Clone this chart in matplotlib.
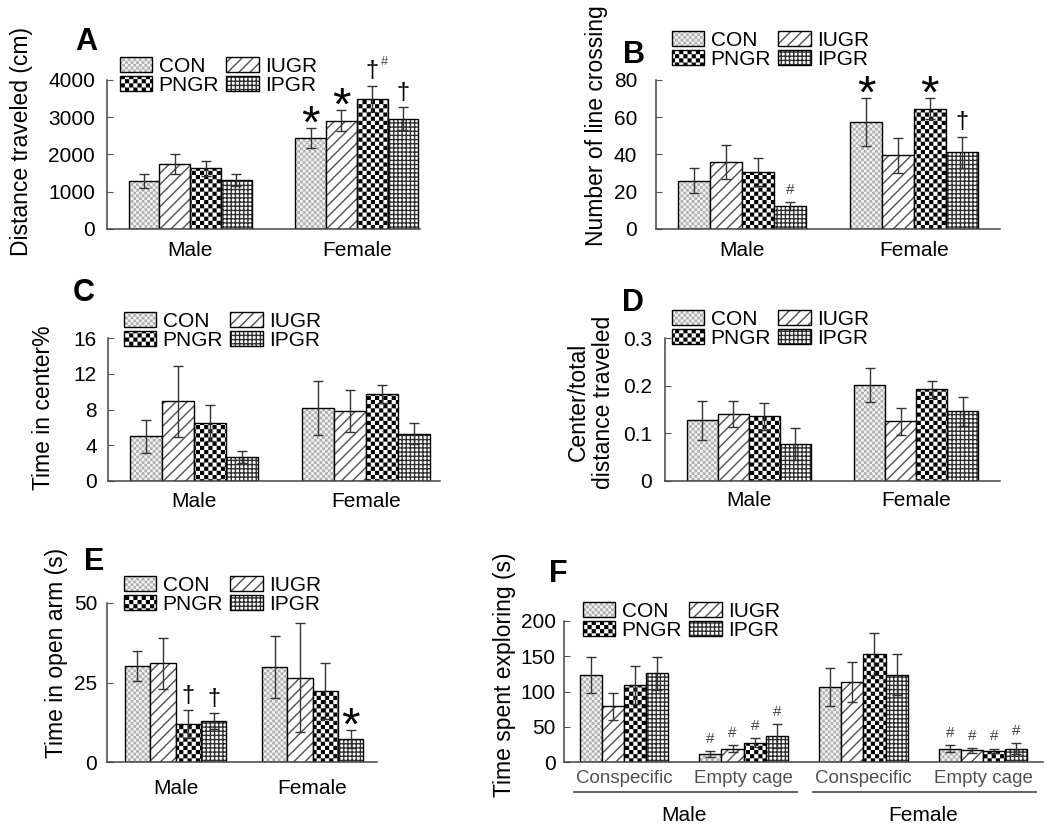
import warnings

import matplotlib.hatch as mhatch
import matplotlib.pyplot as plt
import numpy as np
from matplotlib.path import Path
from matplotlib.transforms import blended_transform_factory

plt.rcParams['font.family'] = ['Liberation Sans', 'DejaVu Sans']
plt.rcParams['hatch.linewidth'] = 1.0
warnings.filterwarnings('ignore', message='.*hatch must consist')


class CheckerHatch(mhatch.HatchPatternBase):
    """Checkerboard hatch: 'c' repeated gives density * count cells per inch."""

    def __init__(self, hatch, density):
        self.num = int(hatch.count('c') * density)
        self.num_vertices = self.num * self.num // 2 * 5

    def set_vertices_and_codes(self, vertices, codes):
        step = 1.0 / self.num
        gap = plt.rcParams['hatch.linewidth'] / 72 / 2
        square = np.array([[gap, gap], [step - gap, gap], [step - gap, step - gap],
                           [gap, step - gap], [gap, gap]])
        square_codes = [Path.MOVETO] + [Path.LINETO] * 3 + [Path.CLOSEPOLY]
        k = 0
        for i in range(self.num):
            for j in range(self.num):
                if (i + j) % 2 == 0:
                    vertices[k:k + 5] = square + [i * step, j * step]
                    codes[k:k + 5] = square_codes
                    k += 5


mhatch._hatch_types.append(CheckerHatch)

# ---- data (rows = x groups, columns = series) ----
series = ['CON', 'IUGR', 'PNGR', 'IPGR']
sexes = ['Male', 'Female']
f_tests = ['Conspecific', 'Empty cage', 'Conspecific', 'Empty cage']

dist_mean = [[1280, 1740, 1630, 1320], [2440, 2910, 3500, 2960]]
dist_sd = [[190, 260, 200, 160], [270, 290, 350, 310]]

cross_mean = [[26, 36, 30.5, 12.3], [57.5, 39.5, 64.6, 41.2]]
cross_sd = [[6.8, 9, 7.5, 2], [12.7, 9.6, 5.7, 8.3]]

center_mean = [[5.0, 8.9, 6.5, 2.7], [8.2, 7.8, 9.7, 5.3]]
center_sd = [[1.85, 4.0, 2.05, 0.7], [3.0, 2.35, 1.0, 1.2]]

ratio_mean = [[0.127, 0.140, 0.136, 0.078], [0.201, 0.125, 0.192, 0.146]]
ratio_sd = [[0.040, 0.027, 0.028, 0.034], [0.036, 0.029, 0.017, 0.031]]

arm_mean = [[30.2, 31.0, 11.9, 12.8], [29.9, 26.5, 22.2, 7.3]]
arm_sd = [[4.7, 8.1, 4.5, 2.5], [9.7, 17.2, 8.8, 2.8]]

explore_mean = [[123.6, 78.8, 109.4, 126.0], [11.8, 18.9, 27.4, 36.3],
                [107.0, 113.7, 153.3, 123.6], [18.9, 16.5, 16.0, 18.9]]
explore_sd = [[26, 19, 27, 23.5], [4, 5, 6, 17], [27, 28, 30, 29], [5, 3.5, 3, 8]]

# significance marks: (group, series index, symbol)
dist_marks = [(1, 0, '*'), (1, 1, '*'), (1, 2, '†#'), (1, 3, '†')]
cross_marks = [(0, 3, '#'), (1, 0, '*'), (1, 2, '*'), (1, 3, '†')]
arm_marks = [(0, 2, '†'), (0, 3, '†'), (1, 3, '*')]
explore_marks = [(g, i, '#') for g in (1, 3) for i in range(4)]

# ---- styles ----
BAR_W = 0.185
# face colour, hatch colour, hatch pattern
bar_styles = {
    'CON': ('#f4f4f4', '#b0b0b0', 'cccccc'),
    'IUGR': ('white', '#505050', '///'),
    'PNGR': ('white', 'black', 'cccc'),
    'IPGR': ('white', '#303030', '++++'),
}
# symbol: (font size, vertical offset in points)
mark_styles = {'*': (34, -7), '†': (17, 6), '#': (11, 6)}

W, H = 1050, 835


def draw_panel(fig, rect, means, sds, xlim, yticks, yticklabels, ylabel,
               label_xy, ypad, xpad, marks, letter, letter_xy, legend_xy):
    """Draws one grouped bar panel. rect/label_xy/letter_xy/legend_xy are
    given in pixels of the 1050x835 figure."""
    left, top, right, bottom = rect
    ax = fig.add_axes([left / W, 1 - bottom / H, (right - left) / W,
                       (bottom - top) / H])
    means = np.array(means)
    sds = np.array(sds)
    groups = np.arange(len(means))
    handles = []
    for i, name in enumerate(series):
        face, hcol, hatch = bar_styles[name]
        xs = groups + (i - 1.5) * BAR_W
        fill = ax.bar(xs, means[:, i], BAR_W, color=face, edgecolor=hcol,
                      hatch=hatch, linewidth=0)
        outline = ax.bar(xs, means[:, i], BAR_W, fill=False, edgecolor='black',
                         linewidth=1, yerr=sds[:, i],
                         error_kw=dict(ecolor='#333333', elinewidth=1,
                                       capsize=3.5, capthick=1))
        handles.append((fill, outline))

    for g, i, sym in marks:
        x = g + (i - 1.5) * BAR_W
        y = means[g, i] + sds[g, i]
        size, dy = mark_styles[sym[0]]
        color = '#444444' if sym[0] == '#' else 'black'
        ax.annotate(sym[0], (x, y), xytext=(0, dy), textcoords='offset points',
                    ha='center', va='baseline', fontsize=size, color=color)
        if len(sym) > 1:
            ax.annotate(sym[1], (x, y), xytext=(9, dy + 9),
                        textcoords='offset points', ha='center', va='baseline',
                        fontsize=9, color='#444444')

    ax.set_xlim(*xlim)
    ax.set_ylim(yticks[0], yticks[-1])
    ax.set_yticks(yticks)
    ax.set_yticklabels(yticklabels)
    ax.tick_params(axis='y', direction='in', length=4, color='#555555',
                   labelsize=15, pad=ypad)
    ax.tick_params(axis='x', length=0, labelsize=15, pad=xpad)
    for side in ['top', 'right']:
        ax.spines[side].set_visible(False)
    for side in ['left', 'bottom']:
        ax.spines[side].set_color('#444444')
        ax.spines[side].set_linewidth(1.1)

    ax.set_ylabel(ylabel, fontsize=16.5, linespacing=1.1)
    ax.yaxis.set_label_coords((label_xy[0] - left) / (right - left),
                              (bottom - label_xy[1]) / (bottom - top))
    fig.text(letter_xy[0] / W, 1 - letter_xy[1] / H, letter, fontsize=22,
             fontweight='bold', ha='center', va='center')

    order = [0, 2, 1, 3]
    ax.legend([handles[k] for k in order], [series[k] for k in order], ncol=2,
              frameon=False, loc='upper left',
              bbox_to_anchor=(legend_xy[0] / W, 1 - legend_xy[1] / H),
              bbox_transform=fig.transFigure, borderpad=0, borderaxespad=0,
              handlelength=1.55, handleheight=0.75, handletextpad=0.3,
              columnspacing=0.35, labelspacing=0.0, fontsize=15)
    return ax


fig = plt.figure(figsize=(10.5, 8.35), dpi=100)

ax = draw_panel(fig, (107, 80, 420, 229), dist_mean, dist_sd, (-0.5, 1.38),
                [0, 1000, 2000, 3000, 4000], ['0', '1000', '2000', '3000', '4000'],
                'Distance traveled (cm)', (33, 142), 8.5, 9, dist_marks,
                'A', (86, 42), (120, 57))
ax.set_xticks(range(2), sexes)

ax = draw_panel(fig, (656, 80, 1000, 229), cross_mean, cross_sd, (-0.5, 1.5),
                [0, 20, 40, 60, 80], ['0', '20', '40', '60', '80'],
                'Number of line crossing', (608, 126), 13.5, 9, cross_marks,
                'B', (634, 55), (672, 31))
ax.set_xticks(range(2), sexes)

ax = draw_panel(fig, (108, 338, 440, 481), center_mean, center_sd, (-0.5, 1.43),
                [0, 4, 8, 12, 16], ['0', '4', '8', '12', '16'],
                'Time in center%', (55, 408), 8, 8, [],
                'C', (84, 293), (124, 312))
ax.set_xticks(range(2), sexes)

ax = draw_panel(fig, (665, 338, 1000, 481), ratio_mean, ratio_sd, (-0.5, 1.5),
                [0, 0.1, 0.2, 0.3], ['0', '0.1', '0.2', '0.3'],
                'Center/total\ndistance traveled', (615, 402), 9.5, 7, [],
                'D', (633, 303), (672, 310))
ax.set_xticks(range(2), sexes)

ax = draw_panel(fig, (107, 603, 377, 762), arm_mean, arm_sd, (-0.5, 1.47),
                [0, 25, 50], ['0', '25', '50'],
                'Time in open arm (s)', (68, 653), 7, 12, arm_marks,
                'E', (94, 562), (124, 576))
ax.set_xticks(range(2), sexes)

ax = draw_panel(fig, (564, 621, 1043, 762), explore_mean, explore_sd, (-0.5, 3.5),
                [0, 50, 100, 150, 200], ['0', '50', '100', '150', '200'],
                'Time spent exploring (s)', (516, 675), 6, 6, explore_marks,
                'F', (558, 574), (583, 602))
ax.set_xticks(range(4), f_tests)
ax.tick_params(axis='x', labelsize=13.5, labelcolor='#505050')
trans = blended_transform_factory(ax.transData, ax.transAxes)
for k, sex in enumerate(sexes):
    g0 = 2 * k
    ax.plot([g0 - 0.42, g0 + 1.445], [-0.213, -0.213], transform=trans,
            clip_on=False, color='#555555', linewidth=1.3)
    ax.text(g0 + 0.5, -0.376, sex, transform=trans, ha='center', va='center',
            fontsize=15)

plt.savefig('out.png', dpi=100)
